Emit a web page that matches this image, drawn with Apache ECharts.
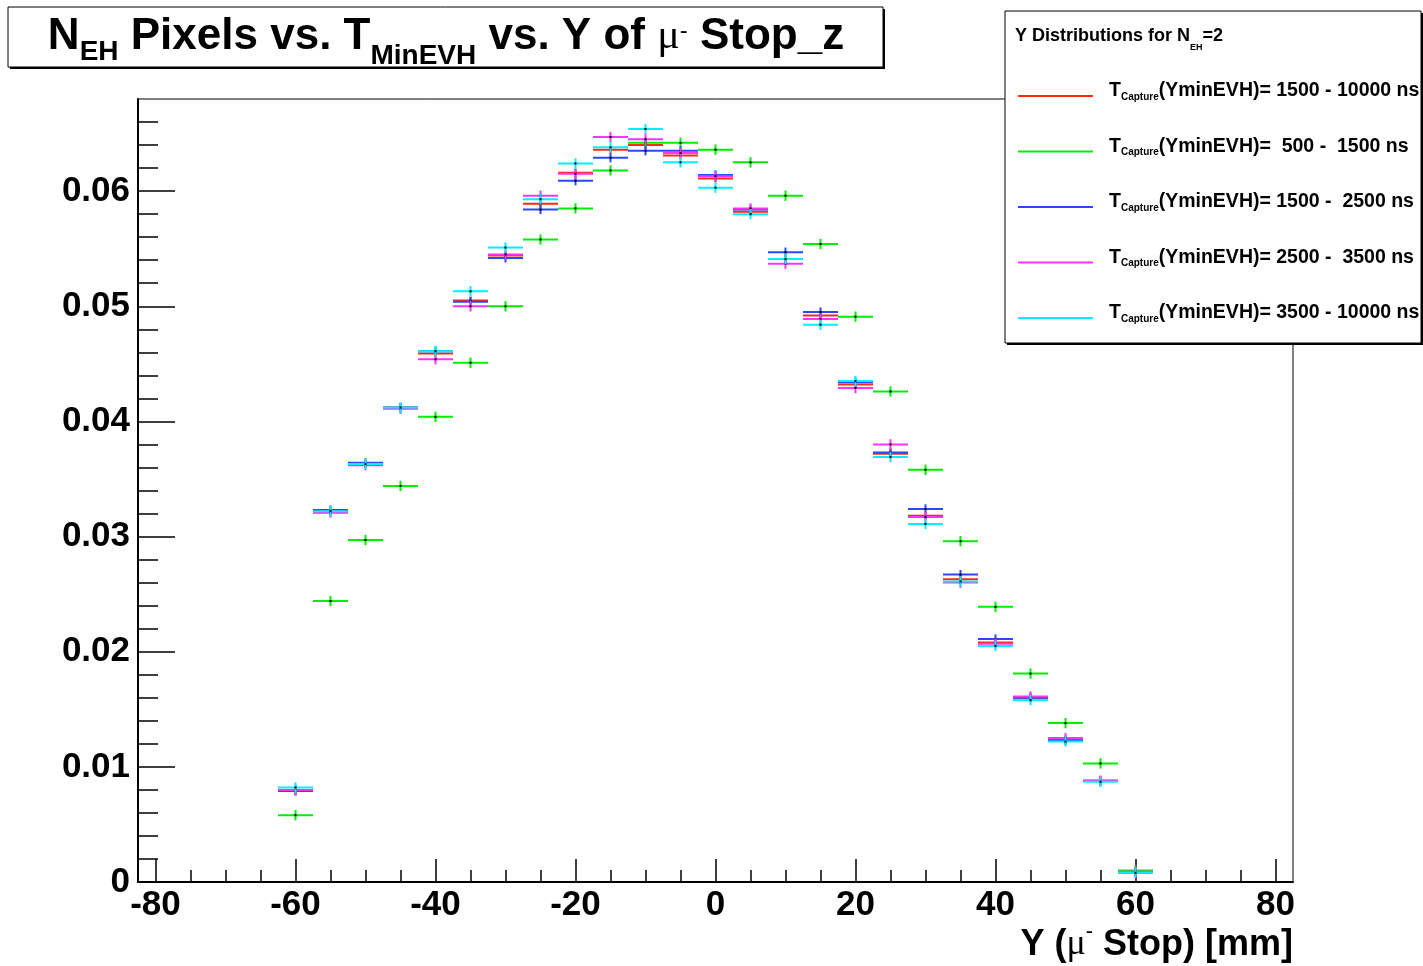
<!DOCTYPE html>
<html>
<head>
<meta charset="utf-8">
<title>NEH Pixels vs. TMinEVH vs. Y of mu- Stop_z</title>
<script src="https://cdn.jsdelivr.net/npm/echarts@6.0.0/dist/echarts.min.js"></script>
<style>
  html, body { margin: 0; padding: 0; background: #fff; }
  #main { width: 1423px; height: 966px; }
</style>
</head>
<body>
<div id="main"></div>
<script>
// bin centres of Y (mu- stop) in mm, each bin is 5 mm wide
var binCenters = [-60, -55, -50, -45, -40, -35, -30, -25, -20, -15, -10, -5, 0,
                  5, 10, 15, 20, 25, 30, 35, 40, 45, 50, 55, 60];
var binWidth = 5;

// T_Capture(YminEVH) ranges, legend order
var legendRanges = ['1500 - 10000', ' 500 -  1500', '1500 -  2500', '2500 -  3500', '3500 - 10000'];
var seriesColors = ['#ff2a10', '#00ee00', '#2a48ff', '#ff33ff', '#00f0ff'];
var seriesErrors = [0.00035, 0.00045, 0.0004, 0.00045, 0.00045];

var red1500to10000 = [0.0079, 0.0321, 0.0363, 0.0412, 0.0459, 0.0505, 0.0544, 0.0589, 0.0616, 0.0636,
  0.0640, 0.0631, 0.0611, 0.0582, 0.0541, 0.0492, 0.0432, 0.0372, 0.0318, 0.0263,
  0.0208, 0.0160, 0.0123, 0.0088, 0.0009];
var green500to1500 = [0.0058, 0.0244, 0.0297, 0.0344, 0.0404, 0.0451, 0.0500, 0.0558, 0.0585, 0.0618,
  0.0642, 0.0642, 0.0636, 0.0625, 0.0596, 0.0554, 0.0491, 0.0426, 0.0358, 0.0296,
  0.0239, 0.0181, 0.0138, 0.0103, 0.0010];
var blue1500to2500 = [0.0079, 0.0323, 0.0364, 0.0412, 0.0461, 0.0504, 0.0542, 0.0584, 0.0609, 0.0629,
  0.0635, 0.0635, 0.0614, 0.0584, 0.0547, 0.0495, 0.0434, 0.0373, 0.0324, 0.0267,
  0.0211, 0.0160, 0.0123, 0.0088, 0.0008];
var magenta2500to3500 = [0.0080, 0.0321, 0.0362, 0.0411, 0.0454, 0.0500, 0.0545, 0.0596, 0.0615, 0.0647,
  0.0645, 0.0633, 0.0613, 0.0585, 0.0537, 0.0489, 0.0429, 0.0380, 0.0317, 0.0260,
  0.0207, 0.0161, 0.0125, 0.0088, 0.0009];
var cyan3500to10000 = [0.0082, 0.0322, 0.0363, 0.0412, 0.0461, 0.0513, 0.0551, 0.0593, 0.0624, 0.0638,
  0.0654, 0.0625, 0.0603, 0.0580, 0.0541, 0.0484, 0.0435, 0.0369, 0.0311, 0.0261,
  0.0205, 0.0158, 0.0122, 0.0087, 0.0008];

var xMajorTicks = [-80, -60, -40, -20, 0, 20, 40, 60, 80];
var xMinorTicks = [-80, -75, -70, -65, -60, -55, -50, -45, -40, -35, -30, -25, -20, -15, -10, -5, 0,
                   5, 10, 15, 20, 25, 30, 35, 40, 45, 50, 55, 60, 65, 70, 75, 80];
var yMajorTicks = [0, 0.01, 0.02, 0.03, 0.04, 0.05, 0.06];
var yMinorTicks = [0.002, 0.004, 0.006, 0.008, 0.012, 0.014, 0.016, 0.018, 0.022, 0.024, 0.026, 0.028,
                   0.032, 0.034, 0.036, 0.038, 0.042, 0.044, 0.046, 0.048, 0.052, 0.054, 0.056, 0.058,
                   0.062, 0.064, 0.066];

var allValues = [red1500to10000, green500to1500, blue1500to2500, magenta2500to3500, cyan3500to10000];

var FONT = 'Liberation Sans';
var SYM = 'Liberation Serif';

/** one histogram: horizontal bin line + vertical error bar + small dot **/
function makeSeries(idx) {
  var data = binCenters.map(function (c, i) {
    return [c, allValues[idx][i], seriesErrors[idx]];
  });
  return {
    name: legendRanges[idx],
    type: 'custom',
    data: data,
    encode: {x: 0, y: 1},
    itemStyle: {color: seriesColors[idx]},
    renderItem: function (params, api) {
      var x = api.value(0), y = api.value(1), e = api.value(2);
      var l = api.coord([x - binWidth / 2, y]);
      var r = api.coord([x + binWidth / 2, y]);
      var up = api.coord([x, y + e]);
      var dn = api.coord([x, y - e]);
      var c = api.coord([x, y]);
      var col = api.visual('color');
      return {
        type: 'group',
        children: [
          {type: 'line', shape: {x1: l[0], y1: l[1], x2: r[0], y2: r[1]}, style: {stroke: col, lineWidth: 2}},
          {type: 'line', shape: {x1: up[0], y1: up[1], x2: dn[0], y2: dn[1]}, style: {stroke: col, lineWidth: 2}},
          {type: 'rect', shape: {x: c[0] - 1, y: c[1] - 1, width: 2, height: 2}, style: {fill: '#000'}}
        ]
      };
    }
  };
}

var tickStyle = {color: '#000', width: 1.5};
var tickLabelStyle = {color: '#000', fontFamily: FONT, fontWeight: 'bold', fontSize: 35, lineHeight: 35};

var myChart = echarts.init(document.getElementById('main'));
myChart.setOption({
  animation: false,
  backgroundColor: '#fff',
  grid: {
    left: 138, top: 99, right: 130, bottom: 84,
    show: true, borderColor: '#000', borderWidth: 1,
    containLabel: false, outerBoundsMode: 'none'
  },
  xAxis: [
    {
      type: 'value', min: -82.5, max: 82.5, position: 'bottom',
      axisLine: {show: true, onZero: false, lineStyle: {color: '#000', width: 2}},
      axisTick: {show: true, inside: true, length: 23, customValues: xMajorTicks, lineStyle: tickStyle},
      axisLabel: Object.assign({customValues: xMajorTicks, margin: 6, showMinLabel: true, showMaxLabel: true}, tickLabelStyle),
      splitLine: {show: false}
    },
    {
      type: 'value', min: -82.5, max: 82.5, position: 'bottom',
      axisLine: {show: false, onZero: false},
      axisTick: {show: true, inside: true, length: 12, customValues: xMinorTicks, lineStyle: tickStyle},
      axisLabel: {show: false},
      splitLine: {show: false}
    }
  ],
  yAxis: [
    {
      type: 'value', min: 0, max: 0.068, position: 'left',
      axisLine: {show: true, onZero: false, lineStyle: {color: '#000', width: 2}},
      axisTick: {show: true, inside: true, length: 37, customValues: yMajorTicks, lineStyle: tickStyle},
      axisLabel: Object.assign({
        customValues: yMajorTicks, margin: 8, showMinLabel: true,
        formatter: function (v) { return v === 0 ? '0' : v.toFixed(2); }
      }, tickLabelStyle),
      splitLine: {show: false}
    },
    {
      type: 'value', min: 0, max: 0.068, position: 'left',
      axisLine: {show: false, onZero: false},
      axisTick: {show: true, inside: true, length: 20, customValues: yMinorTicks, lineStyle: tickStyle},
      axisLabel: {show: false},
      splitLine: {show: false}
    }
  ],
  legend: {
    orient: 'vertical',
    left: 1018, top: 81,
    padding: 0,
    itemWidth: 75, itemHeight: 2, itemGap: 34.5,
    icon: 'rect',
    data: legendRanges,
    selectedMode: false,
    formatter: function (name) {
      return '{t|T}{s|Capture}{m|(YminEVH)= ' + name + ' ns}';
    },
    textStyle: {
      color: '#000',
      rich: {
        t: {fontFamily: FONT, fontWeight: 'bold', fontSize: 19.5, verticalAlign: 'top', padding: [0, 0, 10, 11], color: '#000'},
        s: {fontFamily: FONT, fontWeight: 'bold', fontSize: 10, verticalAlign: 'top', padding: [11, 0, 0, 0], color: '#000'},
        m: {fontFamily: FONT, fontWeight: 'bold', fontSize: 19.5, verticalAlign: 'top', padding: [0, 0, 10, 0], color: '#000'}
      }
    }
  },
  graphic: {
    elements: [
      // title pave with shadow
      {type: 'rect', z: 3, shape: {x: 10, y: 9, width: 875, height: 60}, style: {fill: '#000'}},
      {type: 'rect', z: 3, shape: {x: 8, y: 7, width: 875, height: 60}, style: {fill: '#fff', stroke: '#000', lineWidth: 1}},
      {
        type: 'text', z: 8,
        style: {
          x: 446, y: 15, align: 'center', verticalAlign: 'top',
          text: '{a|N}{s|EH}{a| Pixels vs. T}{s2|MinEVH}{a| vs. Y of }{mu|\u03bc}{sup|-}{a| Stop_z}',
          rich: {
            a: {fontFamily: FONT, fontWeight: 'bold', fontSize: 44, verticalAlign: 'top', fill: '#000'},
            s: {fontFamily: FONT, fontWeight: 'bold', fontSize: 28, verticalAlign: 'top', padding: [23, 0, 0, 0], fill: '#000'},
            s2: {fontFamily: FONT, fontWeight: 'bold', fontSize: 28, verticalAlign: 'top', padding: [27, 0, 0, 0], fill: '#000'},
            mu: {fontFamily: SYM, fontWeight: 'normal', fontSize: 42, verticalAlign: 'top', padding: [1, 0, 0, 0], fill: '#000'},
            sup: {fontFamily: FONT, fontWeight: 'normal', fontSize: 24, verticalAlign: 'top', padding: [4, 0, 0, 0], fill: '#000'}
          }
        }
      },
      // legend pave with shadow
      {type: 'rect', z: 3, shape: {x: 1007, y: 13, width: 416, height: 332}, style: {fill: '#000'}},
      {type: 'rect', z: 3, shape: {x: 1005, y: 11, width: 416, height: 332}, style: {fill: '#fff', stroke: '#000', lineWidth: 1}},
      {
        type: 'text', z: 8,
        style: {
          x: 1015, y: 27, align: 'left', verticalAlign: 'top',
          text: '{a|Y Distributions for N}{s|EH}{a|=2}',
          rich: {
            a: {fontFamily: FONT, fontWeight: 'bold', fontSize: 18, verticalAlign: 'top', fill: '#000'},
            s: {fontFamily: FONT, fontWeight: 'bold', fontSize: 9, verticalAlign: 'top', padding: [16, 0, 0, 0], fill: '#000'}
          }
        }
      },
      // x axis title
      {
        type: 'text', z: 8,
        style: {
          x: 1293, y: 921, align: 'right', verticalAlign: 'top',
          text: '{a|Y (}{mu|\u03bc}{sup|-}{a| Stop) [mm]}',
          rich: {
            a: {fontFamily: FONT, fontWeight: 'bold', fontSize: 36, verticalAlign: 'top', padding: [6, 0, 0, 0], fill: '#000'},
            mu: {fontFamily: SYM, fontWeight: 'normal', fontSize: 36, verticalAlign: 'top', padding: [6, 0, 0, 0], fill: '#000'},
            sup: {fontFamily: FONT, fontWeight: 'normal', fontSize: 22, verticalAlign: 'top', fill: '#000'}
          }
        }
      }
    ]
  },
  series: [0, 1, 2, 3, 4].map(makeSeries)
});
</script>
</body>
</html>
